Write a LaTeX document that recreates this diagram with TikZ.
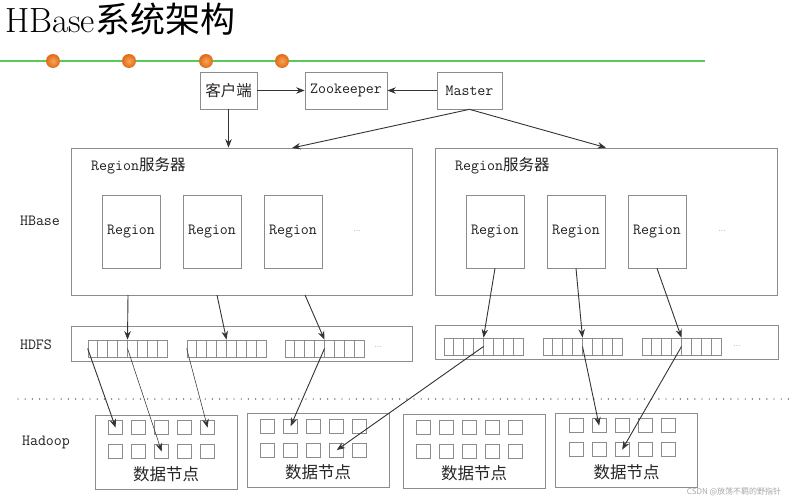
\documentclass[tikz,border=0pt]{standalone}
\usepackage{fontspec}
\newfontfamily\cjk{Noto Sans CJK SC}
\usetikzlibrary{arrows.meta,calc}
\definecolor{boxgray}{HTML}{8C8C8C}
\definecolor{arrgray}{HTML}{333333}
\definecolor{lgreen}{HTML}{5CC85C}
\definecolor{dotorange}{HTML}{E06A14}
\definecolor{dotlight}{HTML}{F7A45A}
\begin{document}
\begin{tikzpicture}[x=1pt,y=-1pt,
  box/.style={draw=boxgray,line width=0.7pt,inner sep=0pt},
  lbl/.style={font=\fontsize{15.5}{17}\selectfont\ttfamily,text=black!88},
  zhl/.style={font=\fontsize{15.5}{17}\selectfont\cjk,text=black!85},
  arr/.style={draw=arrgray,line width=0.9pt,-{Stealth[length=8.5pt,width=6.5pt]}},
  tarr/.style={draw=arrgray,line width=0.55pt,-{Stealth[length=8.5pt,width=6.5pt]}},
  sq/.style={box,minimum width=14pt,minimum height=14pt},
  stripbox/.style={box,minimum width=79pt,minimum height=17pt},
  etc/.style={font=\fontsize{8}{9}\selectfont\rmfamily,text=black!60}
]
\useasboundingbox (0,0) rectangle (793,500);
% title
\node[anchor=base west,inner sep=0pt,text=black] (title) at (5,33)
  {\fontsize{35}{37}\selectfont HBase{\cjk 系统架构}};
\draw[lgreen,line width=1.1pt] (0,61) -- (705,61);
\foreach \x/\n in {53/1,129/2,206/3,282/4}
  \shade[inner color=dotlight,outer color=dotorange] (\x,61) circle (7pt);
% top row
\node[box,minimum width=57pt,minimum height=37pt,zhl] (client) at (228.5,90.5) {客户端};
\node[box,minimum width=82pt,minimum height=37pt,lbl] (zk) at (346,90.5) {Zookeeper};
\node[box,minimum width=65pt,minimum height=37pt,lbl] (master) at (469.5,90.5) {Master};
% region servers
\node[box,minimum width=341pt,minimum height=147pt] (sL) at (241.5,221.5) {};
\node[box,minimum width=342pt,minimum height=147pt] (sR) at (606,221.5) {};
\node[anchor=west,inner sep=0pt,lbl] (sLt) at (91,166) {Region{\cjk 服务器}};
\node[anchor=west,inner sep=0pt,lbl] (sRt) at (455,166) {Region{\cjk 服务器}};
\foreach \x/\n in {131/1,212/2,293/3}
  \node[box,minimum width=58pt,minimum height=73pt,lbl] (rL\n) at (\x,231.5) {Region};
\foreach \x/\n in {495/1,576/2,657/3}
  \node[box,minimum width=58pt,minimum height=73pt,lbl] (rR\n) at (\x,231.5) {Region};
\node[etc] (eL) at (357,231) {...};
\node[etc] (eR) at (722,231) {...};
% left labels
\node[lbl] (lhb) at (40,221) {HBase};
\node[lbl] (lhd) at (36,345) {HDFS};
\node[lbl] (lha) at (46,442) {Hadoop};
% HDFS
\node[box,minimum width=341pt,minimum height=35pt] (hL) at (241.5,343.5) {};
\node[box,minimum width=343pt,minimum height=34pt] (hR) at (606.5,342) {};
\foreach \x/\n/\y in {127.5/L1/348.5,226.5/L2/348.5,324.5/L3/348.5,483.5/R1/346.5,582.5/R2/346.5,681.5/R3/346.5}{
  \node[stripbox] (s\n) at (\x,\y) {};
  \foreach \i in {1,...,7}
    \draw[boxgray,line width=0.7pt] ($(s\n.north west)!\i/8!(s\n.north east)$) -- ($(s\n.south west)!\i/8!(s\n.south east)$);
}
\node[etc] (ehL) at (378,347) {...};
\node[etc] (ehR) at (737,346) {...};
% dotted separator
\draw[black!75,line width=1.4pt,line cap=round,dash pattern=on 0pt off 7.2pt] (18,399) -- (790,399);
% data nodes
\foreach \x/\y/\n in {166/452/1,318/450.5/2,474/451.5/3,626.5/450/4}{
  \node[box,minimum width=142pt,minimum height=74pt] (d\n) at (\x,\y) {};
  \node[font=\fontsize{16.5}{18}\selectfont\cjk,text=black!85] (dl\n) at ($(d\n.center)+(0,22)$) {数据节点};
  \foreach \r in {1,2}
    \foreach \c in {1,...,5}
      \node[sq] (d\n-\r-\c) at ($(d\n.north west)+(\c*23-2,\r*24-11)$) {};
}
% watermark
\node[font=\fontsize{8}{9}\selectfont\cjk,text=black!35] (wm) at (734,492) {CSDN @放荡不羁的野指针};
% coordinates on left server bottom / top
\coordinate (cL1) at (128,295);
\coordinate (cL2) at (217,295);
\coordinate (cL3) at (305,295);
\coordinate (mL) at (292,148);
% arrows top
\draw[arr] (client.east) -- (zk.west);
\draw[arr] (master.west) -- (zk.east);
\draw[arr] (client.south) -- (client.south |- sL.north);
\draw[arr] (master.south) -- (mL);
\draw[arr] (master.south) -- (sR.north);
% to HDFS
\draw[arr] (cL1) -- (sL1.north);
\draw[arr] (cL2) -- (sL2.north);
\draw[arr] (cL3) -- (sL3.north);
\draw[arr] (rR1.south) -- (sR1.north);
\draw[arr] (rR2.south) -- (sR2.north);
\draw[arr] (rR3.south) -- (sR3.north);
% to data nodes
\draw[arr] (sL1.west) -- (d1-1-1.center);
\draw[tarr] (sL1.center) -- (d1-2-3.center);
\draw[tarr] (sL2.west) -- (d1-1-5.center);
\draw[arr] (sL3.center) -- (d2-1-2.center);
\draw[arr] (sR1.center) -- (d2-2-4.center);
\draw[arr] (sR2.center) -- (d4-1-2.center);
\draw[arr] (sR3.center) -- (d4-2-3.center);
\end{tikzpicture}
\end{document}
